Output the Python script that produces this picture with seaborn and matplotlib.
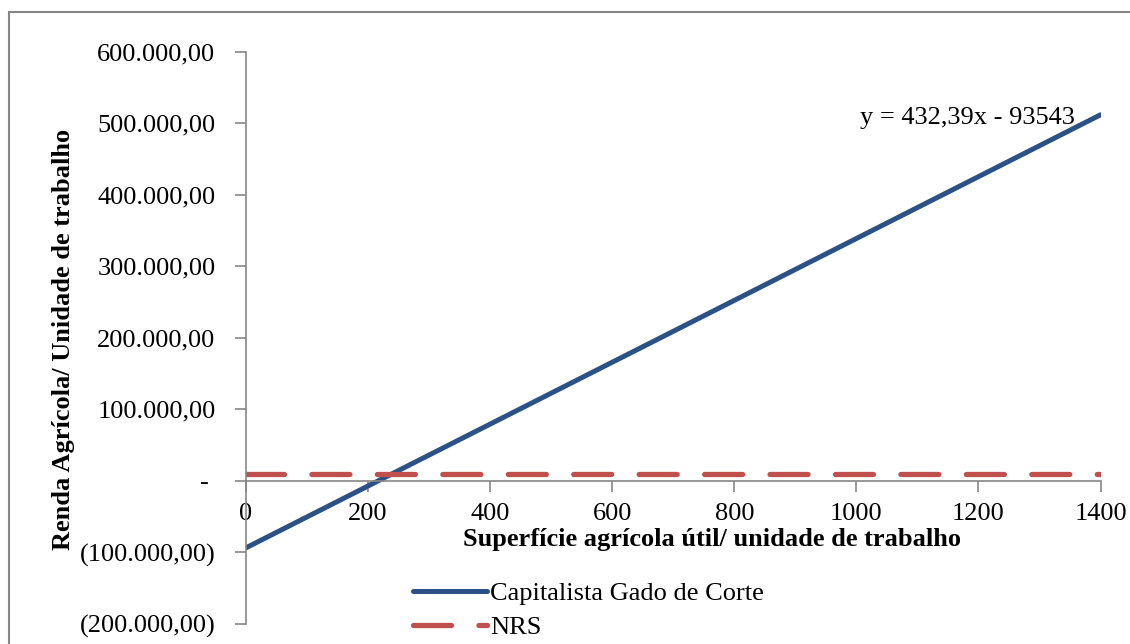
import matplotlib.pyplot as plt
import matplotlib.patches as patches
import seaborn as sns
import pandas as pd
from matplotlib.ticker import FuncFormatter

# data
area = [0, 1400]
renda_capitalista = [-93543, 511803]
nrs_x = [0, 1400]
nrs_y = [10000, 10000]
x_ticks = [0, 200, 400, 600, 800, 1000, 1200, 1400]
y_ticks = [-200000, -100000, 0, 100000, 200000, 300000, 400000, 500000, 600000]
equation = "y = 432,39x - 93543"

sns.set_style('white')
plt.rcParams['font.family'] = ['Liberation Serif', 'DejaVu Serif']
plt.rcParams['text.color'] = 'black'
plt.rcParams['axes.labelcolor'] = 'black'

df_cap = pd.DataFrame({'x': area, 'y': renda_capitalista})
df_nrs = pd.DataFrame({'x': nrs_x, 'y': nrs_y})

fig = plt.figure(figsize=(11.3, 6.44), dpi=100)
ax = fig.add_axes([0.2177, 0.0311, 0.7562, 0.8886])

sns.lineplot(data=df_cap, x='x', y='y', ax=ax, color='#2a5287', linewidth=3.6,
             label='Capitalista Gado de Corte', solid_capstyle='round')
sns.lineplot(data=df_nrs, x='x', y='y', ax=ax, color='#c0504d', linewidth=3.8,
             label='NRS', dashes=False)
ax.lines[1].set_dashes((7.2, 5.2))
ax.lines[1].set_dash_capstyle('round')

ax.set_xlim(0, 1400)
ax.set_ylim(-200000, 600000)
ax.set_xticks(x_ticks)
ax.set_yticks(y_ticks)


def fmt(v, pos):
    if v == 0:
        return '- '
    s = f"{abs(v):,.2f}".replace(',', 'X').replace('.', ',').replace('X', '.')
    return f"({s})" if v < 0 else s


ax.yaxis.set_major_formatter(FuncFormatter(fmt))

gray = '#868686'
for side in ['top', 'right']:
    ax.spines[side].set_visible(False)
ax.spines['bottom'].set_position(('data', 0))
for side in ['left', 'bottom']:
    ax.spines[side].set_color(gray)
    ax.spines[side].set_linewidth(1.2)

ax.tick_params(axis='y', direction='out', length=8, width=1.2, color=gray,
               labelcolor='black', labelsize=19, pad=14, left=True)
ax.tick_params(axis='x', direction='out', length=8, width=1.2, color=gray,
               labelcolor='black', labelsize=19, pad=8, bottom=True)

ax.set_ylabel('Renda Agrícola/ Unidade de trabalho', fontsize=19,
              fontweight='bold', va='center')
ax.yaxis.set_label_coords(-0.213, 0.497)
ax.set_xlabel('Superfície agrícola útil/ unidade de trabalho', fontsize=19,
              fontweight='bold', va='center')
ax.xaxis.set_label_coords(0.545, 0.147)

ax.text(0.9696, 0.884, equation, transform=ax.transAxes, ha='right',
        va='center', fontsize=19)

ax.legend(loc='upper left', bbox_to_anchor=(413 / 1130, 1 - 582 / 644),
          bbox_transform=fig.transFigure, frameon=False, fontsize=19,
          borderpad=0, borderaxespad=0, handlelength=2.8, handletextpad=0.12,
          labelspacing=0.4)

border = patches.Rectangle((9 / 1130, -0.05), 1.2, 1.05 - 12 / 644,
                           transform=fig.transFigure, fill=False,
                           edgecolor=gray, linewidth=1.5)
fig.patches.append(border)

fig.savefig('out.png', dpi=100)
